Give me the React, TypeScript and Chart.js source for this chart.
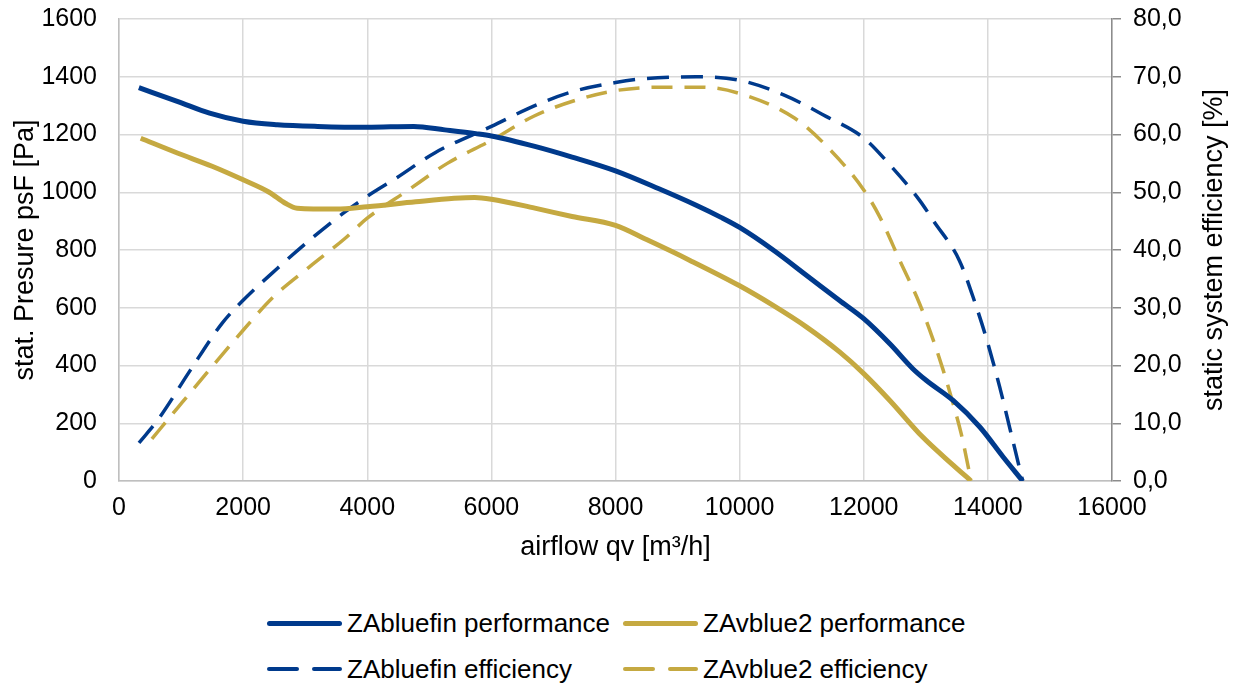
import React, { useEffect, useRef } from 'react';
import { Chart, registerables, ChartConfiguration, Plugin } from 'chart.js';
Chart.register(...registerables);

// airflow qv [m³/h] and the read-off values for each curve
const bluefinPerfX = [320, 950, 1460, 2000, 2550, 3200, 4000, 4750, 5250, 5750, 6000, 6700, 7300, 8000, 8700, 9300, 9700, 10000, 10540, 11080, 11610, 12000, 12420, 12790, 13010, 13440, 13870, 14240, 14560];
const bluefinPerfY = [1362, 1314, 1274, 1246, 1234, 1228, 1225, 1228, 1216, 1203, 1195, 1159, 1122, 1074, 1012, 955, 913, 878, 800, 712, 625, 562, 475, 389, 348, 279, 187, 85, 0];

const vblue2PerfX = [350, 950, 1500, 2000, 2420, 2680, 2870, 3500, 4000, 4780, 5400, 5730, 6000, 6700, 7300, 8000, 8500, 9200, 10000, 10540, 11080, 11610, 12000, 12420, 12950, 13440, 13730];
const vblue2PerfY = [1187, 1135, 1090, 1043, 1000, 962, 945, 942, 950, 967, 979, 982, 976, 945, 916, 885, 836, 764, 676, 608, 533, 447, 372, 279, 152, 55, 0];

const bluefinEffX = [322, 640, 1150, 1660, 2000, 2550, 3060, 3630, 4000, 4460, 5100, 6000, 6700, 7300, 8000, 8400, 9300, 10000, 10700, 11400, 12000, 12400, 12900, 13120, 13540, 13760, 13970, 14190, 14350, 14560];
const bluefinEffY = [6.6, 10.8, 19.2, 27.3, 31.3, 36.8, 41.6, 46.5, 49.3, 52.4, 56.9, 61.4, 65.0, 67.4, 69.0, 69.6, 70.0, 69.4, 66.9, 63.1, 59.4, 55.0, 48.6, 45.1, 38.2, 31.9, 24.9, 16.3, 9.3, 0];

const vblue2EffX = [530, 955, 1500, 2000, 2480, 3060, 3630, 4000, 4650, 5290, 6000, 6690, 7320, 8000, 8740, 9390, 10000, 10890, 11400, 12000, 12260, 12580, 12900, 13120, 13280, 13440, 13570, 13730];
const vblue2EffY = [7.3, 12.8, 19.8, 26.1, 31.8, 37.0, 41.9, 45.5, 50.3, 55.0, 59.0, 63.2, 65.8, 67.6, 68.2, 68.2, 67.1, 62.8, 58.0, 50.4, 45.7, 38.2, 30.7, 24.4, 19.2, 13.4, 8.2, 0];

const seriesNames = ['ZAbluefin performance', 'ZAvblue2 performance', 'ZAbluefin efficiency', 'ZAvblue2 efficiency'];
const rightTitle = 'static system efficiency [%]';

const BLUE = '#003a8c';
const GOLD = '#c5a941';
const FONT = '"Liberation Sans", Arial, sans-serif';

const toPoints = (xs: number[], ys: number[]) => xs.map((x, i) => ({ x, y: ys[i] }));

// Chart.js turns a right-hand title the other way round, so it is drawn here instead
const rightTitlePlugin: Plugin<'line'> = {
  id: 'rightTitle',
  afterDraw(chart) {
    const { ctx, chartArea } = chart;
    ctx.save();
    ctx.translate(1215, (chartArea.top + chartArea.bottom) / 2);
    ctx.rotate(-Math.PI / 2);
    ctx.font = `27px ${FONT}`;
    ctx.fillStyle = '#000';
    ctx.textAlign = 'center';
    ctx.textBaseline = 'middle';
    ctx.fillText(rightTitle, 0, 0);
    ctx.restore();
  },
};

const LegendItem: React.FC<{ left: number; top: number; color: string; dashed: boolean; label: string }> = ({ left, top, color, dashed, label }) => (
  <div style={{ position: 'absolute', left, top: top - 16, height: 32, display: 'flex', alignItems: 'center', whiteSpace: 'nowrap' }}>
    {dashed ? (
      <div style={{ width: 75, display: 'flex', justifyContent: 'space-between' }}>
        <div style={{ width: 32, height: 4, background: color, borderRadius: 2 }} />
        <div style={{ width: 30, height: 4, background: color, borderRadius: 2 }} />
      </div>
    ) : (
      <div style={{ width: 75, height: 5, background: color, borderRadius: 3 }} />
    )}
    <span style={{ marginLeft: 5, fontSize: 26, color: '#000', fontFamily: FONT }}>{label}</span>
  </div>
);

const App: React.FC = () => {
  const chartRef = useRef<HTMLCanvasElement>(null);
  const chartInstanceRef = useRef<Chart | null>(null);

  useEffect(() => {
    if (!chartRef.current) return;
    const ctx = chartRef.current.getContext('2d');
    if (!ctx) return;

    const gridColor = '#d9d9d9';
    const plain = (v: string | number) => String(v);

    const config: ChartConfiguration<'line'> = {
      type: 'line',
      data: {
        datasets: [
          {
            label: seriesNames[0],
            data: toPoints(bluefinPerfX, bluefinPerfY),
            borderColor: BLUE,
            borderWidth: 5,
            yAxisID: 'y',
          },
          {
            label: seriesNames[1],
            data: toPoints(vblue2PerfX, vblue2PerfY),
            borderColor: GOLD,
            borderWidth: 5,
            yAxisID: 'y',
          },
          {
            label: seriesNames[2],
            data: toPoints(bluefinEffX, bluefinEffY),
            borderColor: BLUE,
            borderWidth: 3.5,
            borderDash: [22, 12],
            yAxisID: 'y1',
          },
          {
            label: seriesNames[3],
            data: toPoints(vblue2EffX, vblue2EffY),
            borderColor: GOLD,
            borderWidth: 3.5,
            borderDash: [21, 12],
            yAxisID: 'y1',
          },
        ],
      },
      options: {
        responsive: false,
        animation: false,
        layout: { padding: { top: 19, left: 0, right: 0, bottom: 0 } },
        elements: {
          point: { radius: 0 },
          line: { cubicInterpolationMode: 'monotone', fill: false },
        },
        scales: {
          x: {
            type: 'linear',
            min: 0,
            max: 16000,
            afterFit: (scale) => { scale.height = 99; },
            ticks: { stepSize: 2000, color: '#000', padding: 12, font: { size: 25, family: FONT }, maxRotation: 0, callback: plain },
            grid: { color: gridColor, lineWidth: 1.5, drawTicks: false },
            border: { color: '#bfbfbf', width: 1.5 },
            title: { display: true, text: 'airflow qv [m³/h]', color: '#000', font: { size: 27, family: FONT }, padding: { top: 0, bottom: 16 } },
          },
          y: {
            type: 'linear',
            position: 'left',
            min: 0,
            max: 1600,
            afterFit: (scale) => {
              scale.width = 119;
              scale.paddingTop = 0;
              scale.paddingBottom = 0;
            },
            ticks: { stepSize: 200, color: '#000', padding: 22, font: { size: 25, family: FONT }, callback: plain },
            grid: { color: gridColor, lineWidth: 1.5, drawTicks: false },
            border: { color: '#bfbfbf', width: 1.5 },
            title: { display: true, text: 'stat. Presure psF [Pa]', color: '#000', font: { size: 27, family: FONT }, padding: { top: 9, bottom: 0 } },
          },
          y1: {
            type: 'linear',
            position: 'right',
            min: 0,
            max: 80,
            afterFit: (scale) => {
              scale.width = 124;
              scale.paddingTop = 0;
              scale.paddingBottom = 0;
            },
            ticks: {
              stepSize: 10,
              color: '#000',
              padding: 12,
              font: { size: 25, family: FONT },
              callback: (v) => Number(v).toFixed(1).replace('.', ','),
            },
            grid: { drawOnChartArea: false, drawTicks: true, tickLength: 9, color: '#8c8c8c', lineWidth: 1.5 },
            border: { color: '#8c8c8c', width: 1.5 },
          },
        },
        plugins: {
          legend: { display: false },
          tooltip: { enabled: false },
        },
      },
      plugins: [rightTitlePlugin],
    };

    chartInstanceRef.current = new Chart(ctx, config);
    return () => {
      if (chartInstanceRef.current) {
        chartInstanceRef.current.destroy();
        chartInstanceRef.current = null;
      }
    };
  }, []);

  return (
    <div style={{ position: 'fixed', left: 0, top: 0, width: 1236, height: 686, background: '#fff', fontFamily: FONT }}>
      <canvas ref={chartRef} width={1236} height={580} style={{ display: 'block', width: 1236, height: 580 }}></canvas>
      <LegendItem left={267} top={623} color={BLUE} dashed={false} label={seriesNames[0]} />
      <LegendItem left={623} top={623} color={GOLD} dashed={false} label={seriesNames[1]} />
      <LegendItem left={267} top={669} color={BLUE} dashed={true} label={seriesNames[2]} />
      <LegendItem left={623} top={669} color={GOLD} dashed={true} label={seriesNames[3]} />
    </div>
  );
};

export default App;
